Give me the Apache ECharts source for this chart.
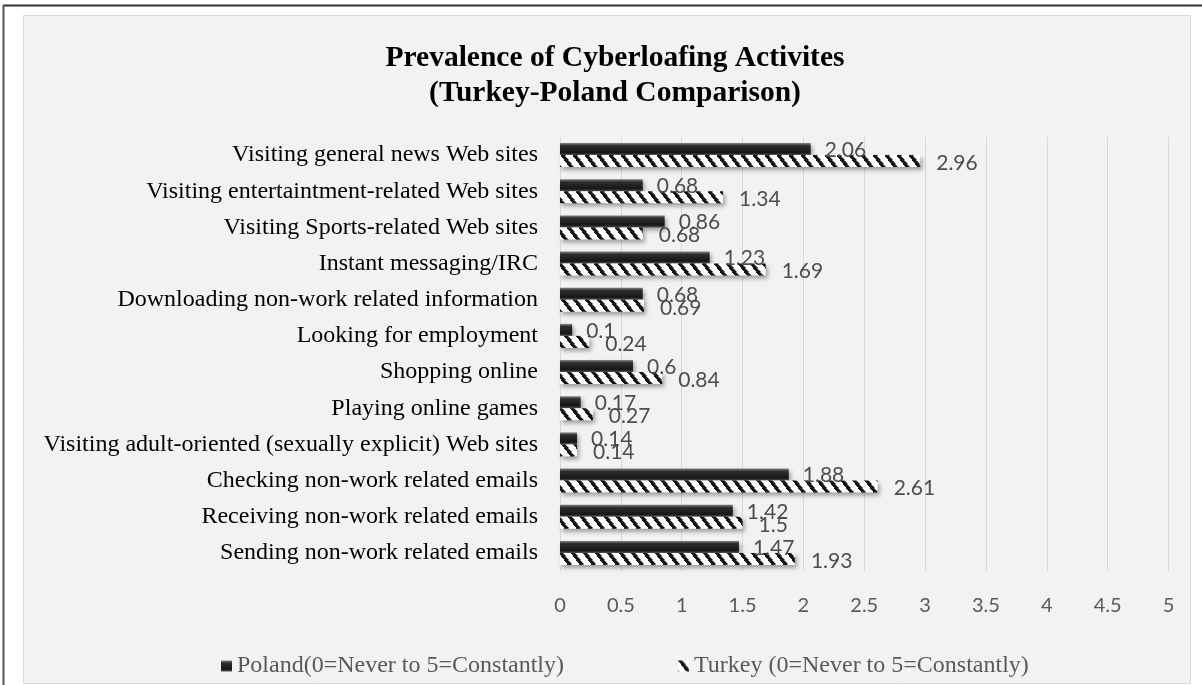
<!DOCTYPE html>
<html>
<head>
<meta charset="utf-8">
<script src="https://cdn.jsdelivr.net/npm/echarts@6/dist/echarts.min.js"></script>
<style>
html,body{margin:0;padding:0;background:#fff;}
#c{width:1202px;height:685px;}
</style>
</head>
<body>
<div id="c"></div>
<script>
const titleLines = ['Prevalence of Cyberloafing Activites', '(Turkey-Poland Comparison)'];
const categories = [
  'Visiting general news Web sites',
  'Visiting entertaintment-related Web sites',
  'Visiting Sports-related Web sites',
  'Instant messaging/IRC',
  'Downloading non-work related information',
  'Looking for employment',
  'Shopping online',
  'Playing online games',
  'Visiting adult-oriented (sexually explicit) Web sites',
  'Checking non-work related emails',
  'Receiving non-work related emails',
  'Sending non-work related emails'
];
const seriesNames = ['Poland(0=Never to 5=Constantly)', 'Turkey (0=Never to 5=Constantly)'];
const polandValues = [2.06, 0.68, 0.86, 1.23, 0.68, 0.1, 0.6, 0.17, 0.14, 1.88, 1.42, 1.47];
const turkeyValues = [2.96, 1.34, 0.68, 1.69, 0.69, 0.24, 0.84, 0.27, 0.14, 2.61, 1.5, 1.93];
const axisMin = 0, axisMax = 5, axisStep = 0.5;

// striped pattern for Turkey
const pc = document.createElement('canvas');
pc.width = 12; pc.height = 16;
const pctx = pc.getContext('2d');
for (let y = 0; y < 16; y++) {
  for (let x = 0; x < 12; x++) {
    let v = ((x - 0.75 * y) % 12 + 12) % 12;
    pctx.fillStyle = v < 4 ? '#151515' : (v < 5 ? '#8a8a8a' : '#ffffff');
    pctx.fillRect(x, y, 1, 1);
  }
}

const polandColor = new echarts.graphic.LinearGradient(0, 0, 0, 1, [
  {offset: 0, color: '#858585'},
  {offset: 0.22, color: '#2e2e2e'},
  {offset: 0.8, color: '#161616'},
  {offset: 1, color: '#555555'}
]);
const turkeyColor = {image: pc, repeat: 'repeat'};

const chart = echarts.init(document.getElementById('c'), null, {renderer: 'canvas'});
const serif = '"Liberation Serif", "Times New Roman", serif';
const sans = 'Lato, Carlito, Calibri, sans-serif';

chart.setOption({
  animation: false,
  backgroundColor: '#ffffff',
  graphic: [
    {type: 'rect', z: -10, shape: {x: 23.5, y: 15.5, width: 1167, height: 668},
     style: {fill: '#f2f2f2', stroke: '#d9d9d9', lineWidth: 1}},
    {type: 'line', z: -5, shape: {x1: 3, y1: 5.5, x2: 1202, y2: 5.5}, style: {stroke: '#333', lineWidth: 2}},
    {type: 'line', z: -5, shape: {x1: 3.5, y1: 5, x2: 3.5, y2: 685}, style: {stroke: '#555', lineWidth: 2}}
  ],
  title: {
    text: titleLines.join('\n'),
    left: 610, top: 36, textAlign: 'center',
    textStyle: {fontFamily: serif, fontWeight: 'bold', fontSize: 29.5, color: '#000', lineHeight: 35}
  },
  legend: [
    {data: [seriesNames[0]], left: 216, top: 649, itemWidth: 11, itemHeight: 11, itemGap: 6, icon: 'rect',
     textStyle: {fontFamily: serif, fontSize: 24, color: '#595959'}},
    {data: [seriesNames[1]], left: 673, top: 649, itemWidth: 11, itemHeight: 11, itemGap: 6, icon: 'rect',
     textStyle: {fontFamily: serif, fontSize: 24, color: '#595959'}}
  ],
  grid: {left: 560, right: 33.5, top: 137, bottom: 114, containLabel: false},
  xAxis: {
    type: 'value', min: axisMin, max: axisMax, interval: axisStep,
    axisLine: {show: false}, axisTick: {show: false},
    splitLine: {show: true, lineStyle: {color: '#d9d9d9', width: 1}},
    axisLabel: {fontFamily: sans, fontSize: 20, color: '#595959', margin: 25}
  },
  yAxis: {
    type: 'category', data: categories, inverse: true,
    axisLine: {show: false}, axisTick: {show: false},
    axisLabel: {fontFamily: serif, fontSize: 24, color: '#000', margin: 22}
  },
  series: [
    {
      name: seriesNames[0], type: 'bar', data: polandValues, barWidth: 12, barGap: '0%',
      itemStyle: {color: polandColor, shadowColor: 'rgba(0,0,0,0.35)', shadowBlur: 4, shadowOffsetX: 2, shadowOffsetY: 3},
      label: {show: true, position: 'right', distance: 14, offset: [0, 1],
        fontFamily: sans, fontSize: 21, color: '#4d4d4d'}
    },
    {
      name: seriesNames[1], type: 'bar', data: turkeyValues, barWidth: 12, barGap: '0%',
      itemStyle: {color: turkeyColor, shadowColor: 'rgba(0,0,0,0.35)', shadowBlur: 4, shadowOffsetX: 2, shadowOffsetY: 3},
      label: {show: true, position: 'right', distance: 16, offset: [0, 2],
        fontFamily: sans, fontSize: 21, color: '#4d4d4d'}
    }
  ]
});
</script>
</body>
</html>
